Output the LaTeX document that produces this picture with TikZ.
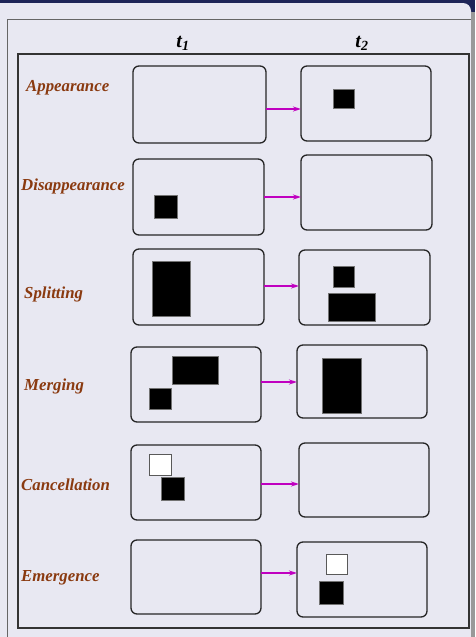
\documentclass[tikz,border=0pt]{standalone}
\usepackage{fontspec}
\setmainfont{Liberation Serif}
\usetikzlibrary{arrows.meta,fit}
\definecolor{bg}{HTML}{E8E8F2}
\definecolor{navy}{HTML}{1E2558}
\definecolor{lbl}{HTML}{8A3A10}
\definecolor{arrc}{HTML}{C000C0}
\begin{document}
\begin{tikzpicture}[x=1pt,y=-1pt,
  box/.style={draw=black!85,line width=1.3pt,rounded corners=6pt,inner sep=0pt,outer sep=0pt},
  lab/.style={anchor=west,text=lbl,font=\fontsize{16.8}{16.8}\selectfont\bfseries\itshape,inner sep=0pt},
  hdr/.style={font=\fontsize{20}{20}\selectfont\bfseries\itshape,inner sep=0pt},
  arr/.style={draw=arrc,line width=1.4pt,-{Stealth[length=8pt,width=5pt]}},
  blk/.style={fill=black,draw=black!55,line width=0.7pt},
  wht/.style={fill=white,draw=black!65,line width=0.9pt}]
\useasboundingbox (0,0) rectangle (475,637);
% window background
\fill[navy] (0,0) rectangle (475,637);
\fill[bg] (0,640) -- (0,3) -- (463,3) arc[start angle=-90,end angle=0,radius=8] -- (471,640) -- cycle;
\fill[black!40] (471,12) rectangle (475,637);
% frames
\draw[black!60,line width=1.5pt] (7.5,637) -- (7.5,19.5) -- (471,19.5);
\draw[black!80,line width=2pt] (18,54) rectangle (469,628);
% headers
\node[hdr] (t1) at (183,43) {t\textsubscript{1}};
\node[hdr] (t2) at (362,43) {t\textsubscript{2}};
% labels
\node[lab] (l1) at (26,88) {Appearance};
\node[lab] (l2) at (21,186) {Disappearance};
\node[lab] (l3) at (24,294) {Splitting};
\node[lab] (l4) at (24,386) {Merging};
\node[lab] (l5) at (21,485) {Cancellation};
\node[lab] (l6) at (21,578) {Emergence};
% boxes
\node[box,fit={(133,66) (266,143)}] (a1) {};
\node[box,fit={(301,66) (431,141)}] (a2) {};
\node[box,fit={(133,159) (264,235)}] (b1) {};
\node[box,fit={(301,155) (432,230)}] (b2) {};
\node[box,fit={(133,249) (264,325)}] (c1) {};
\node[box,fit={(299,250) (430,325)}] (c2) {};
\node[box,fit={(131,347) (261,422)}] (d1) {};
\node[box,fit={(297,345) (427,418)}] (d2) {};
\node[box,fit={(131,445) (261,520)}] (e1) {};
\node[box,fit={(299,443) (429,517)}] (e2) {};
\node[box,fit={(131,540) (261,614)}] (f1) {};
\node[box,fit={(297,542) (427,617)}] (f2) {};
% arrows
\draw[arr] (a1.east |- 0,109) -- (a2.west |- 0,109);
\draw[arr] (b1.east |- 0,197) -- (b2.west |- 0,197);
\draw[arr] (c1.east |- 0,286) -- (c2.west |- 0,286);
\draw[arr] (d1.east |- 0,382) -- (d2.west |- 0,382);
\draw[arr] (e1.east |- 0,484) -- (e2.west |- 0,484);
\draw[arr] (f1.east |- 0,573) -- (f2.west |- 0,573);
% shapes
\draw[blk] (333,89) rectangle (354,108);
\draw[blk] (154,195) rectangle (177,218);
\draw[blk] (152,261) rectangle (190,316);
\draw[blk] (333,266) rectangle (354,287);
\draw[blk] (328,293) rectangle (375,321);
\draw[blk] (172,356) rectangle (218,384);
\draw[blk] (149,388) rectangle (171,409);
\draw[blk] (322,358) rectangle (361,413);
\draw[wht] (149,454) rectangle (171,475);
\draw[blk] (161,477) rectangle (184,500);
\draw[wht] (326,554) rectangle (347,574);
\draw[blk] (319,581) rectangle (343,604);
\end{tikzpicture}
\end{document}
